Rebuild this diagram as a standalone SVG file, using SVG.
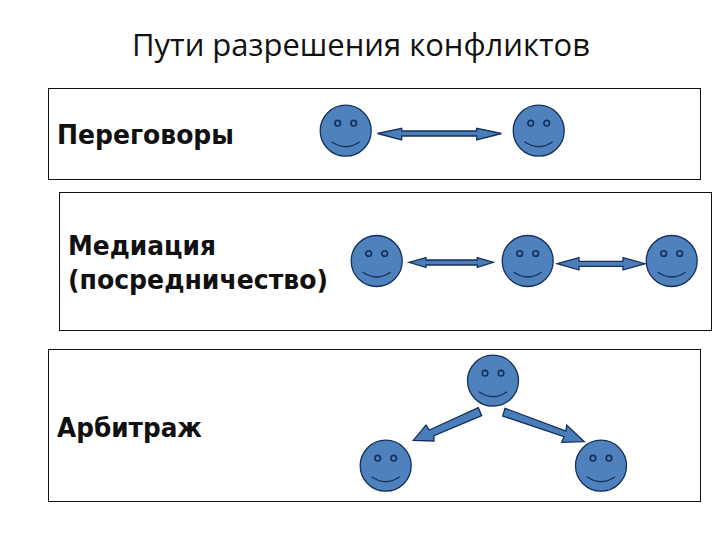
<svg xmlns="http://www.w3.org/2000/svg" width="720" height="540" viewBox="0 0 720 540">
<style>
.box{fill:#fff;stroke:#111;stroke-width:1}
.title{font-family:"Open Sans","Liberation Sans",sans-serif;font-size:31px;fill:#111}
.lab{font-family:"DejaVu Sans",sans-serif;font-weight:bold;font-size:27px;fill:#111}
.arr{fill:#4a7ebb;stroke:#14305a;stroke-width:1.3}
.face{fill:#4f81bd;stroke:#14305a;stroke-width:1.3}
.eye{fill:#4f81bd;stroke:#14305a;stroke-width:1.6}
.smile{fill:none;stroke:#14305a;stroke-width:1.3}
</style>
<defs>
<g id="smiley">
<circle class="face" cx="0" cy="0" r="25.500"/>
<circle class="eye" cx="-8" cy="-7.500" r="2.800"/>
<circle class="eye" cx="8" cy="-7.500" r="2.800"/>
<path class="smile" d="M-14 11 Q0 21 14 11"/>
</g>
</defs>
<rect width="720" height="540" fill="#fff"/>
<text class="title" x="132" y="56" textLength="458" lengthAdjust="spacingAndGlyphs">Пути разрешения конфликтов</text>
<g id="box-negotiation">
<rect class="box" x="48.500" y="88.500" width="652" height="91"/>
<text class="lab" x="57" y="144" textLength="177" lengthAdjust="spacingAndGlyphs">Переговоры</text>
</g>
<g id="box-mediation">
<rect class="box" x="59.500" y="192.500" width="652" height="138"/>
<text class="lab" x="68" y="255" textLength="148" lengthAdjust="spacingAndGlyphs">Медиация</text>
<text class="lab" x="68" y="289" textLength="260" lengthAdjust="spacingAndGlyphs">(посредничество)</text>
</g>
<g id="box-arbitration">
<rect class="box" x="48.500" y="349.500" width="652" height="152"/>
<text class="lab" x="57" y="437" textLength="145" lengthAdjust="spacingAndGlyphs">Арбитраж</text>
</g>
<g id="node-n1"><use href="#smiley" x="345.700" y="130.700"/></g>
<g id="node-n2"><use href="#smiley" x="538.700" y="130.700"/></g>
<g id="node-m1"><use href="#smiley" x="376.700" y="261"/></g>
<g id="node-m2"><use href="#smiley" x="527.700" y="261"/></g>
<g id="node-m3"><use href="#smiley" x="671.700" y="261"/></g>
<g id="node-a1"><use href="#smiley" x="493" y="380.700"/></g>
<g id="node-a2"><use href="#smiley" x="385.700" y="465.700"/></g>
<g id="node-a3"><use href="#smiley" x="601" y="465.700"/></g>
<g id="connectors">
<polygon class="arr" points="377.500,133.500 401.700,128.300 401.700,131 476.700,131 476.700,128.300 501.500,133.500 476.700,140 476.700,136 401.700,136 401.700,140"/>
<polygon class="arr" points="409,262.300 426,257.700 426,260 477.300,260 477.300,257.700 493.300,262.300 477.300,267.300 477.300,265 426,265 426,267.300"/>
<polygon class="arr" points="557.300,263.700 579,257.700 579,261.300 623,261.300 623,257.700 645,263.700 623,270 623,266.300 579,266.300 579,270"/>
<polygon class="arr" points="413.300,440.300 426,425 429.300,430 478.300,407.700 481.700,415.700 434,435.700 434,441"/>
<polygon class="arr" points="584.300,441.700 561.700,442.300 564,436.700 502.700,416 505,408.300 566,431 566.700,425"/>
</g>
</svg>
